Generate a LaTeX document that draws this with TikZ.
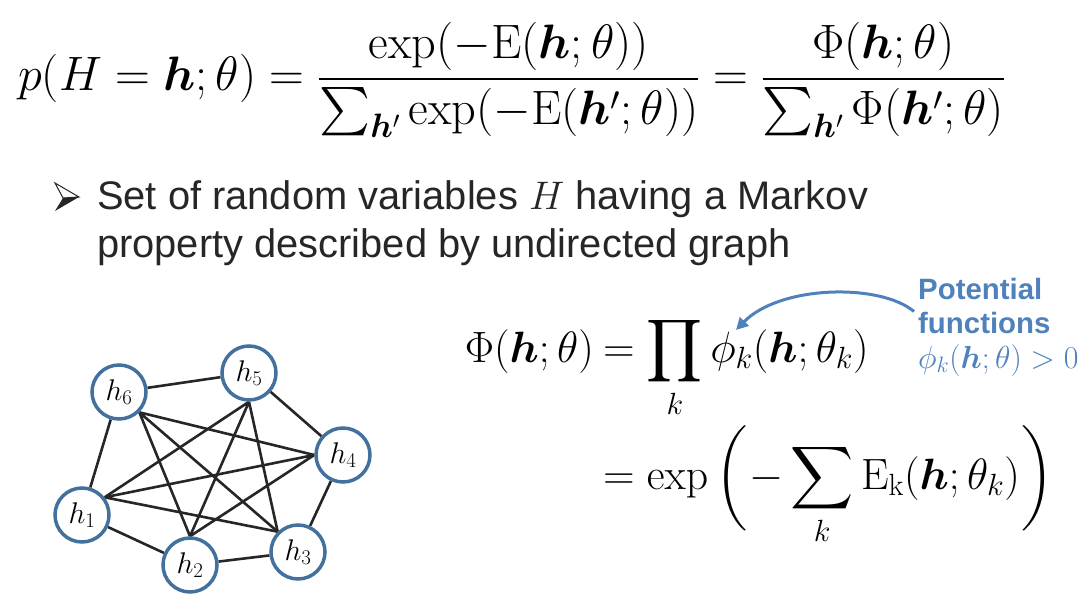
\RequirePackage{fix-cm}
\documentclass[tikz,border=0pt]{standalone}
\usepackage{amsmath,bm}
\usepackage[no-math]{fontspec}
\setmainfont{Liberation Sans}
\DeclareFontShape{OMX}{cmex}{m}{n}{<-> cmex10}{}
\usetikzlibrary{arrows.meta,backgrounds}
\definecolor{pfblue}{RGB}{79,129,189}
\definecolor{nodeblue}{RGB}{65,113,156}
\definecolor{edgegray}{RGB}{38,38,38}
\newcommand{\myopenparen}{\mathopen{\left(\vcenter to 110bp{}\right.}}
\newcommand{\mycloseparen}{\mathclose{\left.\vcenter to 110bp{}\right)}}
\begin{document}
\begin{tikzpicture}[x=1bp,y=-1bp,
  hnode/.style={circle, draw=nodeblue, line width=3.5bp, fill=white, minimum size=54bp, inner sep=0pt, font=\fontsize{30}{32}\selectfont},
  edge/.style={draw=edgegray, line width=2.6bp},
  plain/.style={inner sep=0pt, anchor=base west},
  bigmath/.style={inner sep=0pt, font=\fontsize{44}{50}\selectfont},
  bodytext/.style={inner sep=0pt, anchor=base west, font=\fontsize{40}{46}\selectfont, text=black!85},
  pftext/.style={inner sep=0pt, anchor=base west, font=\bfseries\fontsize{29.5}{34}\selectfont, text=pfblue}]
\useasboundingbox (0,0) rectangle (1091,606);

% top formula
\node[plain, font=\fontsize{44}{50}\selectfont] (eqtop) at (18,91)
  {\resizebox{987bp}{!}{$\displaystyle p(H=\bm{h};\theta)=\frac{\exp(-\mathrm{E}(\bm{h};\theta))}{\sum_{\bm{h}'}\exp(-\mathrm{E}(\bm{h}';\theta))}=\frac{\Phi(\bm{h};\theta)}{\sum_{\bm{h}'}\Phi(\bm{h}';\theta)}$}};

% bullet (3D arrowhead)
\draw[black!85, line width=1bp, line join=miter] (55,183) -- (79,197) -- (63,198) -- cycle;
\fill[black!85] (63,198) -- (79,197) -- (55,211) -- cycle;
\node[bodytext] (line1) at (97,210) {Set of random variables $H$ having a Markov};
\node[bodytext] (line2) at (97,258) {property described by undirected graph};

% second formula
\node[bigmath, anchor=base east] (phiL) at (594,362) {$\Phi(\bm{h};\theta)$};
\node[bigmath, anchor=base west] (phiR) at (603,362) {$\displaystyle =\prod_k \phi_k(\bm{h};\theta_k)$};
\node[bigmath, anchor=base west] (expL) at (603,489) {$\displaystyle =\exp\,\myopenparen-\sum_k \mathrm{E}_{\mathrm{k}}(\bm{h};\theta_k)\mycloseparen$};

% potential functions
\node[pftext] (pf1) at (918,300) {Potential};
\node[pftext] (pf2) at (918,333) {functions};
\node[plain, text=pfblue, font=\fontsize{32}{36}\selectfont] (pfc) at (918,368) {$\phi_k(\bm{h};\theta)>0$};
\coordinate (tip) at (736,330);
\draw[pfblue, line width=3bp, -{Triangle[length=12bp,width=12bp]}]
  ([xshift=-4bp]pf2.north west) .. controls (880,283) and (780,285) .. (tip);

% graph
\node[hnode] (h6) at (119,392) {$h_6$};
\node[hnode] (h5) at (249,373) {$h_5$};
\node[hnode] (h4) at (343,455) {$h_4$};
\node[hnode] (h1) at (82,515) {$h_1$};
\node[hnode] (h2) at (190,565) {$h_2$};
\node[hnode] (h3) at (298,552) {$h_3$};
\begin{scope}[on background layer]
\draw[edge] (h6)--(h5) (h5)--(h4) (h4)--(h3) (h3)--(h2) (h2)--(h1) (h1)--(h6);
\draw[edge] (h6.-45)--(h4.180) (h6.-45)--(h3.135) (h6.-45)--(h2.90);
\draw[edge] (h5.-90)--(h1.38) (h5.-90)--(h2.90) (h5.-90)--(h3.135);
\draw[edge] (h1.38)--(h4.180) (h1.38)--(h3.135) (h2.90)--(h4.180);
\end{scope}
\end{tikzpicture}
\end{document}
